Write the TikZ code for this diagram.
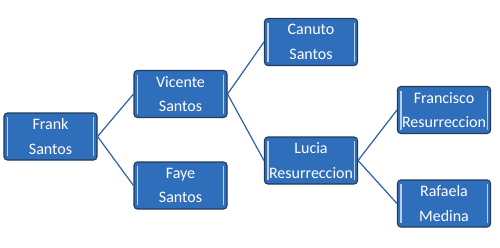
\documentclass[tikz,border=0pt]{standalone}
\usepackage{fontspec}
\setmainfont{Carlito}
\usetikzlibrary{positioning}
\definecolor{boxblue}{HTML}{2F6EBA}
\definecolor{boxedge}{HTML}{243B57}
\definecolor{linkblue}{HTML}{2E5FA8}
\definecolor{bevel}{HTML}{B8D0EE}

\begin{document}
\begin{tikzpicture}[x=0.75pt, y=-0.75pt, line width=0.8pt,
  font=\fontsize{12}{18.5}\selectfont,
  box/.style={draw=boxedge, fill=boxblue, text=white, rounded corners=2.5pt,
              align=center, inner sep=0pt, minimum width=69.75pt, minimum height=35.25pt,
              path picture={
                \draw[bevel, line width=0.8pt]
                  ([xshift=2.6pt,yshift=-3pt]path picture bounding box.north west) --
                  ([xshift=2.6pt,yshift=3pt]path picture bounding box.south west);
                \draw[bevel, line width=0.8pt]
                  ([xshift=-2.6pt,yshift=-3pt]path picture bounding box.north east) --
                  ([xshift=-2.6pt,yshift=3pt]path picture bounding box.south east);}},
  link/.style={draw=linkblue, line width=0.9pt}]

\useasboundingbox (0,0) rectangle (500,247);

\node[box] (frank)     at (50.5,136.5) {Frank\\Santos};
\node[box] (vicente)   at (180.5,94)   {Vicente\\Santos};
\node[box] (faye)      at (180.5,185.5){Faye\\Santos};
\node[box] (canuto)    at (311,42)     {Canuto\\Santos};
\node[box] (lucia)     at (311,160.5)  {Lucia\\Resurreccion};
\node[box] (francisco) at (444,110)    {Francisco\\Resurreccion};
\node[box] (rafaela)   at (444,203.5)  {Rafaela\\Medina};

% parent to child
\draw[link] (frank.east)   -- (vicente.west);
\draw[link] (frank.east)   -- (faye.west);
\draw[link] (vicente.east) -- (canuto.west);
\draw[link] (vicente.east) -- (lucia.west);
\draw[link] (lucia.east)   -- (francisco.west);
\draw[link] (lucia.east)   -- (rafaela.west);

\end{tikzpicture}
\end{document}
